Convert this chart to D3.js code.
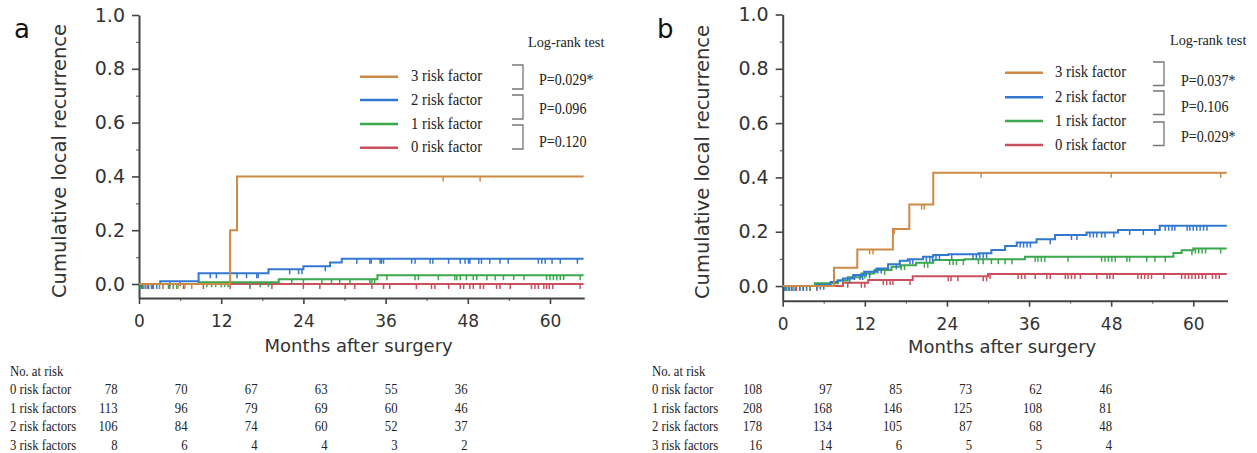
<!DOCTYPE html>
<html><head><meta charset="utf-8">
<script src="https://cdn.jsdelivr.net/npm/d3@7"></script>
<style>html,body{margin:0;padding:0;background:#fff;}svg{display:block;}</style>
</head><body>
<svg id="chart" width="1257" height="453"></svg>
<script>
// ---------------- DATA ----------------
const groups = ["0 risk factor", "1 risk factor", "2 risk factor", "3 risk factor"];
const tableRowLabels = ["0 risk factor", "1 risk factors", "2 risk factors", "3 risk factors"];
const xTicks = [0, 12, 24, 36, 48, 60];
const xMinorTicks = [6, 18, 30, 42, 54];
const yTicks = [0, 0.2, 0.4, 0.6, 0.8, 1.0];
const yMinorTicks = [0.1, 0.3, 0.5, 0.7, 0.9];
const atRiskMonths = [0, 12, 24, 36, 48, 60];

// Panel a: step curves [month, cumulative recurrence]
const a0Curve = [[0, 0]];
const a1Curve = [[0, 0], [8.7, 0.007], [20.4, 0.018], [34.8, 0.033]];
const a2Curve = [[0, 0], [3.1, 0.01], [8.7, 0.04], [18.9, 0.055], [24.0, 0.066], [27.9, 0.08], [29.6, 0.094]];
const a3Curve = [[0, 0], [13.3, 0.2], [14.3, 0.4]];
// Panel a: censored times
const a0Censor = [0.5,1.2,2.0,3.5,4.5,6.5,9.4,13.3,16.2,19.4,24.0,26.4,30.1,31.5,34.0,35.7,36.6,40.5,42.7,43.2,45.2,46.9,47.4,48.3,48.8,49.8,50.3,52.2,52.7,54.2,57.3,57.8,58.3,59.1,59.5,59.9,60.4,64.4];
const a1Censor = [0.2,0.6,1.8,3.0,4.3,5.0,5.5,9.9,10.6,11.2,12.0,12.5,13.0,16.2,17.7,18.9,22.3,24.0,26.7,28.1,29.3,30.8,33.7,34.0,34.4,36.2,40.3,40.8,43.7,46.1,46.4,46.9,47.8,48.8,49.3,50.8,52.0,53.2,54.7,56.2,59.5,60.0,60.5,61.0,61.5,62.0,64.4];
const a2Censor = [0.4,0.9,1.4,2.1,2.6,4.5,6.0,10.4,11.3,14.3,15.7,17.2,17.4,22.0,23.3,23.8,27.2,31.8,33.7,33.9,35.2,35.4,35.7,39.8,40.3,42.5,42.9,45.2,46.9,47.6,48.1,48.3,49.6,50.0,51.2,52.7,53.9,58.3,58.8,59.3,60.3,61.5,64.0];
const a3Censor = [5.7, 6.7, 7.7, 44.4, 49.8];
const aPValues = ["P=0.029*", "P=0.096", "P=0.120"];
const aAtRisk0 = [78, 70, 67, 63, 55, 36];
const aAtRisk1 = [113, 96, 79, 69, 60, 46];
const aAtRisk2 = [106, 84, 74, 60, 52, 37];
const aAtRisk3 = [8, 6, 4, 4, 3, 2];

// Panel b
const b0Curve = [[0, 0], [8.8, 0.012], [12.5, 0.022], [19.0, 0.036], [30.0, 0.044]];
const b1Curve = [[0, 0], [4.7, 0.01], [8.1, 0.02], [9.5, 0.032], [11.5, 0.046], [13.4, 0.059], [15.9, 0.071], [17.3, 0.077], [19.5, 0.086], [22.0, 0.096], [26.6, 0.099], [35.4, 0.108], [57.1, 0.122], [58.3, 0.132], [60.0, 0.138]];
const b2Curve = [[0, 0], [5.0, 0.005], [7.0, 0.015], [8.0, 0.02], [8.8, 0.028], [10.3, 0.041], [11.9, 0.053], [13.7, 0.065], [15.4, 0.08], [17.1, 0.093], [18.3, 0.099], [20.5, 0.108], [22.0, 0.114], [24.2, 0.117], [28.6, 0.121], [30.5, 0.133], [32.5, 0.147], [34.2, 0.16], [37.1, 0.172], [39.8, 0.188], [44.4, 0.197], [49.0, 0.206], [55.1, 0.222]];
const b3Curve = [[0, 0], [7.5, 0.067], [10.9, 0.135], [16.1, 0.21], [18.5, 0.30], [22.0, 0.417]];
const b0Censor = [0.5,1.0,2.0,3.0,4.0,5.0,9.5,11.5,12.0,14.7,15.2,15.7,16.1,18.6,24.2,24.6,25.6,29.3,29.8,30.3,34.4,34.9,35.4,36.9,38.6,39.1,41.3,41.7,42.2,42.7,43.5,45.9,47.4,47.8,48.3,51.9,52.4,52.9,53.4,53.9,55.7,58.3,58.8,59.3,59.8,60.3,60.8,61.3,61.8,62.8,63.3,63.8];
const b1Censor = [0.5,1.5,2.5,4.0,5.5,12.0,12.7,14.9,17.3,17.8,20.7,21.2,24.4,24.9,25.4,26.4,28.6,29.3,30.5,31.5,32.5,33.5,36.9,37.3,37.8,38.3,41.7,46.6,47.1,47.6,48.1,48.6,50.3,50.7,53.2,54.4,55.9,59.8,60.3,60.8,61.3,61.8,64.0];
const b2Censor = [0.3,0.8,1.3,1.8,2.5,3.0,3.5,5.0,5.5,6.0,9.8,10.5,11.3,11.7,12.2,12.7,13.9,14.4,16.6,17.1,18.6,19.0,21.0,21.5,21.9,22.4,22.9,24.7,27.8,28.3,28.8,29.3,29.8,34.7,35.2,35.7,36.2,39.1,42.2,43.0,44.9,45.4,45.9,46.6,47.1,48.4,50.7,52.7,54.4,55.9,56.4,56.9,57.3,59.1,59.5,60.0,60.5,61.0,61.5,62.0];
const b3Censor = [12.7, 13.2, 16.3, 20.3, 20.7, 29.0, 48.0, 64.0];
const bPValues = ["P=0.037*", "P=0.106", "P=0.029*"];
const bAtRisk0 = [108, 97, 85, 73, 62, 46];
const bAtRisk1 = [208, 168, 146, 125, 108, 81];
const bAtRisk2 = [178, 134, 105, 87, 68, 48];
const bAtRisk3 = [16, 14, 6, 5, 5, 4];

const colors = ["#c9505c", "#3aa84c", "#3378d0", "#cc8a44"];
const followEnd = 64.9;

// ---------------- DRAW ----------------
const svg = d3.select("#chart");
const SANS = "'DejaVu Sans', Verdana, sans-serif";
const SERIF = "'Liberation Serif', 'Times New Roman', serif";

function stext(g, x, y, s, o) {
  return g.append("text")
    .attr("transform", `translate(${x},${y}) scale(${o.sx || 1},1)`)
    .attr("font-family", o.family || SERIF)
    .attr("font-size", o.size || 15)
    .attr("text-anchor", o.anchor || "start")
    .attr("fill", o.fill || "#222")
    .text(s);
}

function stepValue(curve, t) {
  let v = curve[0][1];
  for (const p of curve) if (p[0] <= t) v = p[1];
  return v;
}

function panel(cfg) {
  const g = svg.append("g");
  const x = d3.scaleLinear().domain([0, 65]).range([cfg.x0, cfg.x0 + 65 * cfg.pxPerMonth]);
  const y = d3.scaleLinear().domain([cfg.yMin, 1]).range([cfg.yBottom, cfg.yTop]);

  // minor ticks
  g.append("g").attr("transform", `translate(0,${cfg.yBottom})`)
    .call(d3.axisBottom(x).tickValues(xMinorTicks).tickSize(3).tickSizeOuter(0).tickFormat(""))
    .call(s => s.select(".domain").remove())
    .call(s => s.selectAll("line").attr("stroke", "#777").attr("stroke-width", 1.3));
  g.append("g").attr("transform", `translate(${cfg.x0},0)`)
    .call(d3.axisLeft(y).tickValues(yMinorTicks).tickSize(3).tickSizeOuter(0).tickFormat(""))
    .call(s => s.select(".domain").remove())
    .call(s => s.selectAll("line").attr("stroke", "#777").attr("stroke-width", 1.3));

  const xa = g.append("g").attr("transform", `translate(0,${cfg.yBottom})`)
    .call(d3.axisBottom(x).tickValues(xTicks).tickSize(6).tickSizeOuter(0).tickPadding(11).tickFormat(d3.format("d")));
  xa.select(".domain").attr("stroke", "#444").attr("stroke-width", 2);
  xa.selectAll("line").attr("stroke", "#444").attr("stroke-width", 1.6);
  xa.selectAll("text").attr("font-family", SANS).attr("font-size", 17).attr("fill", "#333");

  const ya = g.append("g").attr("transform", `translate(${cfg.x0},0)`)
    .call(d3.axisLeft(y).tickValues(yTicks).tickSize(7).tickSizeOuter(0).tickPadding(7).tickFormat(d3.format(".1f")));
  ya.select(".domain").attr("stroke", "#444").attr("stroke-width", 2);
  ya.selectAll("line").attr("stroke", "#444").attr("stroke-width", 1.6);
  ya.selectAll("text").attr("font-family", SANS).attr("font-size", 19).attr("fill", "#333");

  // axis titles
  g.append("text").attr("x", (x.range()[0] + x.range()[1]) / 2 - 3).attr("y", cfg.xTitleY)
    .attr("text-anchor", "middle").attr("font-family", SANS).attr("font-size", 18).attr("fill", "#333")
    .text("Months after surgery");
  g.append("text").attr("transform", `translate(${cfg.yTitleX},${cfg.yTitleMid}) rotate(-90)`)
    .attr("text-anchor", "middle").attr("font-family", SANS).attr("font-size", 19.5).attr("fill", "#333")
    .text("Cumulative local recurrence");

  // panel letter
  g.append("text").attr("x", cfg.letterX).attr("y", 38).attr("font-family", SANS)
    .attr("font-size", 26).attr("fill", "#111").text(cfg.letter);

  // curves
  const line = d3.line().x(d => x(d[0])).y(d => y(d[1])).curve(d3.curveStepAfter);
  cfg.curves.forEach((c, i) => {
    const pts = c.concat([[followEnd, c[c.length - 1][1]]]);
    g.append("path").attr("d", line(pts)).attr("fill", "none")
      .attr("stroke", colors[i]).attr("stroke-width", 2);
    g.append("g").selectAll("line").data(cfg.censors[i]).join("line")
      .attr("x1", d => x(d)).attr("x2", d => x(d))
      .attr("y1", d => y(stepValue(c, d))).attr("y2", d => y(stepValue(c, d)) + 5)
      .attr("stroke", colors[i]).attr("stroke-width", 1.5);
  });

  // legend
  const L = cfg.legend;
  const order = [3, 2, 1, 0];
  order.forEach((gi, k) => {
    const ly = L.rowY[k];
    g.append("line").attr("x1", L.lineX).attr("x2", L.lineX + 38).attr("y1", ly).attr("y2", ly)
      .attr("stroke", colors[gi]).attr("stroke-width", 2.5);
    stext(g, L.labelX, ly + 4.5, groups[gi], { size: 16, sx: 0.92 });
  });
  stext(g, L.testX, L.testY, "Log-rank test", { size: 15.5, sx: 0.92 });
  cfg.pValues.forEach((p, k) => {
    const t = L.brTop[k], b = t + L.brH;
    g.append("path").attr("d", `M${L.brX},${t}H${L.brX + 11}V${b}H${L.brX}`)
      .attr("fill", "none").attr("stroke", "#777").attr("stroke-width", 1.3);
    stext(g, L.pX, L.pY[k], p, { size: 16, sx: 0.88 });
  });

  // number at risk table
  const T = cfg.table;
  const col = d3.scaleLinear().domain([0, atRiskMonths.length - 1]).range([T.col0, T.col0 + 70 * (atRiskMonths.length - 1)]);
  stext(g, T.x, T.y0, "No. at risk", { size: 15.5, sx: 0.82 });
  cfg.atRisk.forEach((row, r) => {
    const ry = T.y0 + 18.6 * (r + 1);
    stext(g, T.x, ry, tableRowLabels[r], { size: 15.5, sx: 0.82 });
    row.forEach((v, j) => stext(g, col(j), ry, String(v), { size: 15.5, sx: 0.82, anchor: "end" }));
  });
}

panel({
  letter: "a", letterX: 14,
  x0: 139, pxPerMonth: 6.85, yMin: -0.052, yBottom: 298, yTop: 15,
  xTitleY: 352, yTitleX: 66, yTitleMid: 161,
  curves: [a0Curve, a1Curve, a2Curve, a3Curve],
  censors: [a0Censor, a1Censor, a2Censor, a3Censor],
  pValues: aPValues,
  legend: { lineX: 360, labelX: 411, rowY: [76.7, 100, 124, 147.7], testX: 528, testY: 47,
            brX: 512, brTop: [65, 95, 125], brH: 24, pX: 539, pY: [85, 114, 147] },
  table: { x: 10, y0: 375.5, col0: 117.5 },
  atRisk: [aAtRisk0, aAtRisk1, aAtRisk2, aAtRisk3]
});

panel({
  letter: "b", letterX: 657,
  x0: 782.7, pxPerMonth: 6.843, yMin: -0.054, yBottom: 300.7, yTop: 14.5,
  xTitleY: 353, yTitleX: 709, yTitleMid: 162,
  curves: [b0Curve, b1Curve, b2Curve, b3Curve],
  censors: [b0Censor, b1Censor, b2Censor, b3Censor],
  pValues: bPValues,
  legend: { lineX: 1005, labelX: 1055, rowY: [72.7, 97.3, 121, 145], testX: 1170, testY: 45,
            brX: 1153, brTop: [62, 91, 122], brH: 23.5, pX: 1181, pY: [86, 112, 141.5] },
  table: { x: 652, y0: 375.5, col0: 762 },
  atRisk: [bAtRisk0, bAtRisk1, bAtRisk2, bAtRisk3]
});
</script>
</body></html>
